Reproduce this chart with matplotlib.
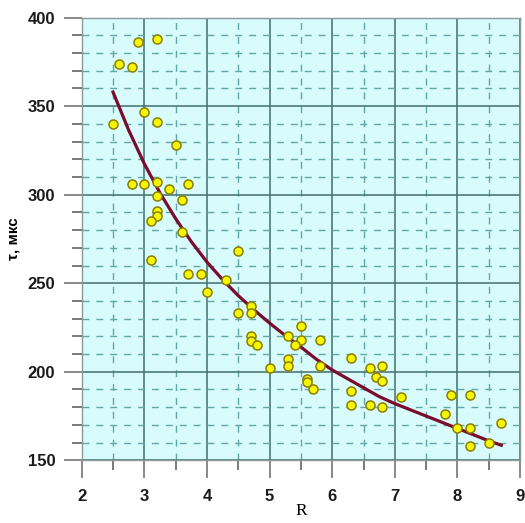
import numpy as np
import matplotlib
matplotlib.use("Agg")
import matplotlib.pyplot as plt
from matplotlib.ticker import MultipleLocator

# measured points
r_vals = [2.5, 2.6, 2.8, 2.9, 3.2, 3.0, 3.2, 3.5, 2.8, 3.0, 3.2, 3.4, 3.7, 3.2, 3.6,
          3.2, 3.2, 3.1, 3.6, 4.5, 3.1, 3.7, 3.9, 4.0, 4.3, 4.5, 4.7, 4.7, 4.7, 4.7,
          4.8, 5.0, 5.5, 5.3, 5.5, 5.4, 5.8, 5.3, 5.3, 5.8, 5.6, 5.6, 5.7, 6.3, 6.3,
          6.3, 6.6, 6.7, 6.8, 6.8, 6.6, 6.8, 7.1, 7.9, 8.2, 7.8, 8.0, 8.2, 8.2, 8.5,
          8.7]
tau_vals = [340, 374, 372, 386, 388, 347, 341, 328, 306, 306, 307, 303, 306, 299, 297,
            291, 288, 285, 279, 268, 263, 255, 255, 245, 252, 233, 237, 233, 220, 217.5,
            215, 202, 226, 220, 218, 215, 218, 207, 203, 203, 196, 194, 190, 208, 189,
            181, 202, 197, 203, 195, 181, 180, 186, 187, 187, 176, 168, 168, 158, 160,
            171]

# trend line
fit_r = [2.5, 2.75, 3.0, 3.25, 3.5, 3.75, 4.0, 4.25, 4.5, 4.75, 5.0, 5.25, 5.5, 5.75,
         6.0, 6.25, 6.5, 6.75, 7.0, 7.25, 7.5, 7.75, 8.0, 8.25, 8.5, 8.7]
fit_tau = [358, 336.5, 317.5, 301, 286.5, 273.5, 262, 252, 243, 235, 227.5, 220.5,
           214, 207, 201, 196, 191, 186, 182, 178.5, 175, 171.5, 168, 164.5, 161, 158.5]

xticks = [2, 3, 4, 5, 6, 7, 8, 9]
yticks = [150, 200, 250, 300, 350, 400]

fig = plt.figure(figsize=(5.25, 5.23), dpi=100)
ax = fig.add_axes([0.1556, 0.1199, 0.835, 0.8463])
ax.set_facecolor("#d8fbfb")

ax.set_xlim(2, 9)
ax.set_ylim(150, 400)
ax.set_xticks(xticks)
ax.set_yticks(yticks)
ax.xaxis.set_minor_locator(MultipleLocator(0.5))
ax.yaxis.set_minor_locator(MultipleLocator(10))

ax.grid(which="major", color="#426f6f", linewidth=1.1, linestyle="-")
ax.grid(which="minor", color="#62a8a8", linewidth=1.0, linestyle=(0, (5, 5)))
ax.set_axisbelow(True)

for s in ax.spines.values():
    s.set_color("#8a9a9a")
    s.set_linewidth(1.0)

ax.tick_params(which="major", direction="out", length=13, width=1.3, color="#808080", pad=8)
ax.tick_params(which="minor", direction="out", length=7, width=1.3, color="#707070")
ax.tick_params(axis="y", which="major", pad=6)

for lab in ax.get_xticklabels() + ax.get_yticklabels():
    lab.set_fontfamily("Liberation Sans")
    lab.set_fontweight("bold")
    lab.set_fontsize(12)
    lab.set_color("#1a1a1a")

ax.plot(fit_r, fit_tau, color="#7a0c2c", linewidth=2.3, zorder=3)
ax.plot(r_vals, tau_vals, "o", markersize=6.5, markerfacecolor="#f7f700",
        markeredgecolor="#8c7e00", markeredgewidth=1.1, zorder=4, linestyle="none")

ax.set_xlabel("R", fontfamily="Liberation Serif", fontsize=12.5)
ax.xaxis.set_label_coords(0.5, -0.097)
ax.set_ylabel("τ, мкс", fontfamily="Liberation Sans", fontweight="bold", fontsize=11)
ax.yaxis.set_label_coords(-0.14, 0.5)

fig.savefig("out.png", dpi=100)
